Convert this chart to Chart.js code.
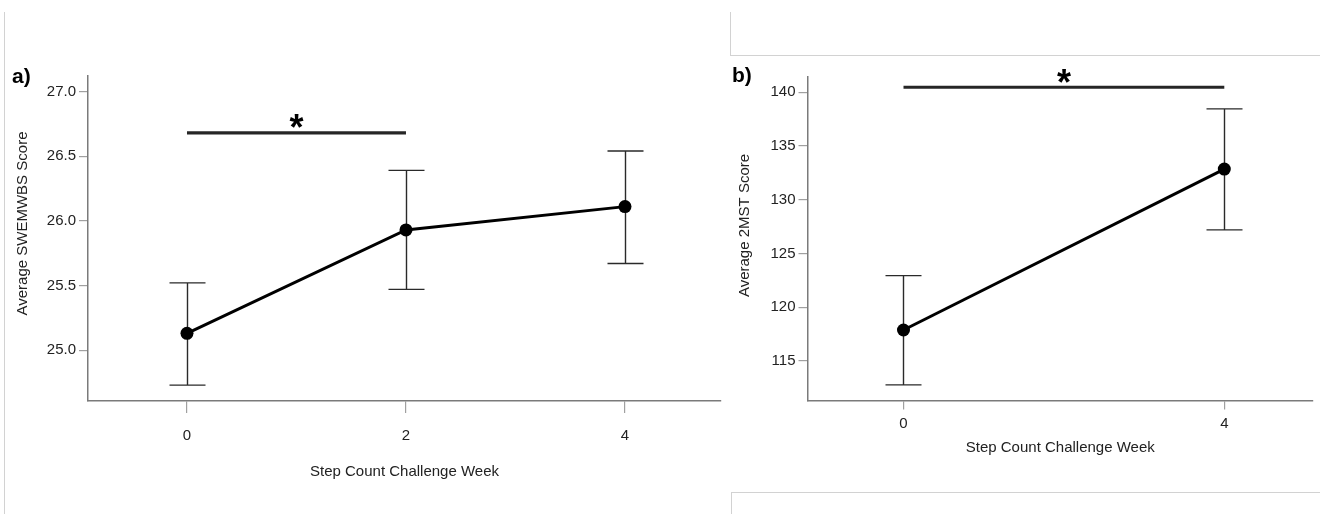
<!DOCTYPE html>
<html><head><meta charset="utf-8">
<script src="https://cdn.jsdelivr.net/npm/chart.js@4"></script>
<style>
html,body{margin:0;padding:0;background:#fff;width:1320px;height:514px;overflow:hidden;position:relative;font-family:"Liberation Sans",Arial,sans-serif}
.ln{position:absolute;background:#d2d2d2}
canvas{position:absolute;top:0}
#ca{left:0}
#cb{left:720px}
.lbl{position:absolute;font-weight:bold;font-size:21px;line-height:21px;color:#000}
</style></head>
<body>
<div class="ln" style="left:4px;top:12px;width:1px;height:502px"></div>
<div class="ln" style="left:730px;top:12px;width:1px;height:44px"></div>
<div class="ln" style="left:730px;top:55px;width:590px;height:1px"></div>
<div class="ln" style="left:731px;top:492px;width:589px;height:1px"></div>
<div class="ln" style="left:731px;top:492px;width:1px;height:22px"></div>
<canvas id="ca" width="730" height="514"></canvas>
<canvas id="cb" width="600" height="514"></canvas>
<div class="lbl" style="left:12px;top:65px">a)</div>
<div class="lbl" style="left:732px;top:64px">b)</div>
<script>
// ---- Panel a data ----
const weeksA = [0, 2, 4];
const meanA  = [25.13, 25.93, 26.11];
const lowA   = [24.73, 25.47, 25.67];
const highA  = [25.52, 26.39, 26.54];
const yTicksA = [25.0, 25.5, 26.0, 26.5, 27.0];
const xTicksA = [0, 2, 4];
const sigA = [0, 2, 26.68];   // from week, to week, bar value
const yTitleA = 'Average SWEMWBS Score';

// ---- Panel b data ----
const weeksB = [0, 4];
const meanB  = [117.88, 132.85];
const lowB   = [112.77, 127.2];
const highB  = [122.94, 138.46];
const yTicksB = [115, 120, 125, 130, 135, 140];
const xTicksB = [0, 4];
const sigB = [0, 4, 140.47];
const yTitleB = 'Average 2MST Score';

const xTitle = 'Step Count Challenge Week';
const FAM = '"Liberation Sans", Arial, sans-serif';

function panelPlugin(weeks, lo, hi, sig, yTitle, titleX, titleY) {
  return {
    id: 'panel',
    beforeDatasetsDraw(chart) {
      const {ctx} = chart, xs = chart.scales.x, ys = chart.scales.y;
      ctx.save();
      ctx.strokeStyle = '#2a2a2a';
      ctx.lineWidth = 1.4;
      weeks.forEach((w, i) => {
        const px = Math.round(xs.getPixelForValue(w)) + 0.5;
        const t = ys.getPixelForValue(hi[i]);
        const b = ys.getPixelForValue(lo[i]);
        ctx.beginPath();
        ctx.moveTo(px, t); ctx.lineTo(px, b);
        ctx.moveTo(px - 18, t); ctx.lineTo(px + 18, t);
        ctx.moveTo(px - 18, b); ctx.lineTo(px + 18, b);
        ctx.stroke();
      });
      ctx.restore();
    },
    afterDatasetsDraw(chart) {
      const {ctx} = chart, xs = chart.scales.x, ys = chart.scales.y;
      const x1 = xs.getPixelForValue(sig[0]), x2 = xs.getPixelForValue(sig[1]);
      const y = ys.getPixelForValue(sig[2]);
      ctx.save();
      ctx.strokeStyle = '#262626';
      ctx.lineWidth = 3.2;
      ctx.beginPath(); ctx.moveTo(x1, y); ctx.lineTo(x2, y); ctx.stroke();
      ctx.fillStyle = '#000';
      ctx.font = 'bold 36px ' + FAM;
      ctx.textAlign = 'center';
      ctx.textBaseline = 'alphabetic';
      const m = ctx.measureText('*');
      const cy = y - 11.5;
      const base = cy + (m.actualBoundingBoxAscent - m.actualBoundingBoxDescent) / 2;
      ctx.fillText('*', (x1 + x2) / 2, base);
      ctx.restore();
    },
    afterDraw(chart) {
      const {ctx} = chart;
      ctx.save();
      ctx.translate(titleX, titleY);
      ctx.rotate(-Math.PI / 2);
      ctx.fillStyle = '#222';
      ctx.font = '15px ' + FAM;
      ctx.textAlign = 'center';
      ctx.textBaseline = 'middle';
      ctx.fillText(yTitle, 0, 0);
      ctx.restore();
    }
  };
}

function makeChart(id, weeks, mean, lo, hi, yTicks, xTicks, sig, yTitle, cfg) {
  return new Chart(document.getElementById(id), {
    type: 'line',
    data: {
      datasets: [{
        data: weeks.map((w, i) => ({x: w, y: mean[i]})),
        borderColor: '#000',
        borderWidth: 3,
        backgroundColor: '#000',
        pointBackgroundColor: '#000',
        pointBorderWidth: 0,
        pointRadius: 6.5,
        tension: 0,
        fill: false
      }]
    },
    options: {
      responsive: false,
      animation: false,
      events: [],
      layout: {padding: {top: cfg.top, right: cfg.right, left: 0, bottom: 0}},
      plugins: {legend: {display: false}, tooltip: {enabled: false}},
      scales: {
        x: {
          type: 'linear',
          min: cfg.xmin, max: cfg.xmax,
          afterBuildTicks: s => { s.ticks = xTicks.map(v => ({value: v})); },
          afterFit: s => { s.height = 514 - cfg.bottom; },
          grid: {display: true, drawOnChartArea: false, drawTicks: true, tickLength: cfg.xTickLen, color: '#a0a0a0', lineWidth: 1.2},
          border: {display: true, color: '#7a7a7a', width: 1.5},
          ticks: {padding: cfg.xTickPad, color: '#222', font: {family: FAM, size: 15}, maxRotation: 0, callback: v => String(v)},
          title: {display: true, text: xTitle, color: '#222', font: {family: FAM, size: 15}, padding: {top: 0, bottom: cfg.xTitlePad}}
        },
        y: {
          type: 'linear',
          min: cfg.ymin, max: cfg.ymax,
          afterBuildTicks: s => { s.ticks = yTicks.map(v => ({value: v})); },
          afterFit: s => { s.width = cfg.yw; },
          grid: {display: true, drawOnChartArea: false, drawTicks: true, tickLength: 9, color: '#a0a0a0', lineWidth: 1.2},
          border: {display: true, color: '#7a7a7a', width: 1.5},
          ticks: {padding: 3, color: '#222', font: {family: FAM, size: 15}, callback: v => cfg.fmt(v)}
        }
      }
    },
    plugins: [panelPlugin(weeks, lo, hi, sig, yTitle, cfg.tx, cfg.ty)]
  });
}

makeChart('ca', weeksA, meanA, lowA, highA, yTicksA, xTicksA, sigA, yTitleA, {
  top: 76, right: 9, bottom: 401, yw: 88,
  xmin: -0.904, xmax: 4.877, ymin: 24.607, ymax: 27.12,
  xTickLen: 12, xTickPad: 14, xTitlePad: 33,
  fmt: v => v.toFixed(1), tx: 23, ty: 223.5
});

makeChart('cb', weeksB, meanB, lowB, highB, yTicksB, xTicksB, sigB, yTitleB, {
  top: 76.7, right: 7, bottom: 400.5, yw: 87.5,
  xmin: -1.197, xmax: 5.106, ymin: 111.32, ymax: 141.45,
  xTickLen: 9, xTickPad: 5, xTitlePad: 57,
  fmt: v => String(Math.round(v)), tx: 25, ty: 225.5
});
</script>
</body></html>
